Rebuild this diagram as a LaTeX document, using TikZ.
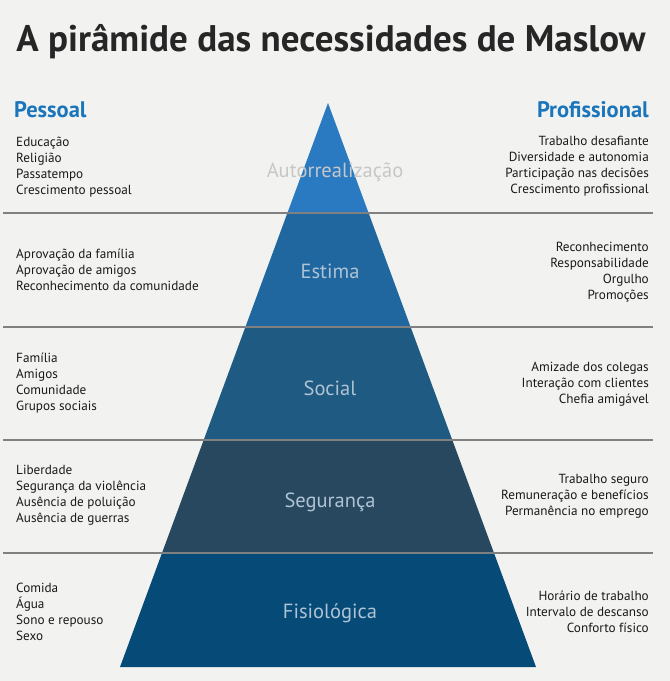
\documentclass[tikz,border=0pt]{standalone}
\usepackage{fontspec}
\setmainfont{PT Sans}
\definecolor{paper}{HTML}{F2F2F0}
\definecolor{rule}{HTML}{808080}
\definecolor{headblue}{HTML}{1B75BB}
\definecolor{lvlA}{HTML}{2A7AC2}
\definecolor{lvlB}{HTML}{20679F}
\definecolor{lvlC}{HTML}{1F5A82}
\definecolor{lvlD}{HTML}{27485E}
\definecolor{lvlE}{HTML}{064B77}
\definecolor{lvltext}{HTML}{AFC3D4}
\begin{document}
\begin{tikzpicture}[x=1pt, y=-1pt,
  item/.style={inner sep=0pt, font=\fontsize{13.2}{16}\selectfont, text=black!90},
  lft/.style={item, anchor=west, align=left},
  rgt/.style={item, anchor=east, align=right},
  lvl/.style={inner sep=0pt, text=lvltext, font=\fontsize{20.5}{24}\selectfont},
  head/.style={inner sep=0pt, text=headblue, font=\fontsize{22.5}{26}\selectfont\bfseries}]
\fill[paper] (0,0) rectangle (670,681);
\useasboundingbox (0,0) rectangle (670,681);

% Titulo
\node[inner sep=0pt, text=black!85, font=\fontsize{37}{42}\selectfont\bfseries] (title) at (331,42) {A pirâmide das necessidades de Maslow};
\node[head, anchor=west] (pes) at (14,110) {Pessoal};
\node[head, anchor=east] (pro) at (649,110) {Profissional};

% Piramide
\fill[lvlA] (328,103) -- (368.6,213) -- (287.4,213) -- cycle;
\fill[lvlB] (287.4,213) -- (368.6,213) -- (410.6,327) -- (245.4,327) -- cycle;
\fill[lvlC] (245.4,327) -- (410.6,327) -- (452.3,440) -- (203.7,440) -- cycle;
\fill[lvlD] (203.7,440) -- (452.3,440) -- (494,553) -- (162,553) -- cycle;
\fill[lvlE] (162,553) -- (494,553) -- (536,667) -- (120,667) -- cycle;

% Linhas
\foreach \y in {213,327,440,553}
  \draw[rule, line width=2pt] (3,\y) -- (653,\y);

% Niveis
\node[lvl, text=black!22] (n1) at (335,172) {Autorrealização};
\node[lvl] (n2) at (330,271) {Estima};
\node[lvl] (n3) at (330,388) {Social};
\node[lvl] (n4) at (330,502) {Segurança};
\node[lvl] (n5) at (330,613) {Fisiológica};

% Pessoal
\node[lft] (p1) at (16,167) {Educação\\Religião\\Passatempo\\Crescimento pessoal};
\node[lft] (p2) at (16,270) {Aprovação da família\\Aprovação de amigos\\Reconhecimento da comunidade};
\node[lft] (p3) at (16,383) {Família\\Amigos\\Comunidade\\Grupos sociais};
\node[lft] (p4) at (16,495) {Liberdade\\Segurança da violência\\Ausência de poluição\\Ausência de guerras};
\node[lft] (p5) at (16,612) {Comida\\Água\\Sono e repouso\\Sexo};

% Profissional
\node[rgt] (q1) at (649,166) {Trabalho desafiante\\Diversidade e autonomia\\Participação nas decisões\\Crescimento profissional};
\node[rgt] (q2) at (649,272) {Reconhecimento\\Responsabilidade\\Orgulho\\Promoções};
\node[rgt] (q3) at (649,384) {Amizade dos colegas\\Interação com clientes\\Chefia amigável};
\node[rgt] (q4) at (649,496) {Trabalho seguro\\Remuneração e benefícios\\Permanência no emprego};
\node[rgt] (q5) at (649,612) {Horário de trabalho\\Intervalo de descanso\\Conforto físico};
\end{tikzpicture}
\end{document}
